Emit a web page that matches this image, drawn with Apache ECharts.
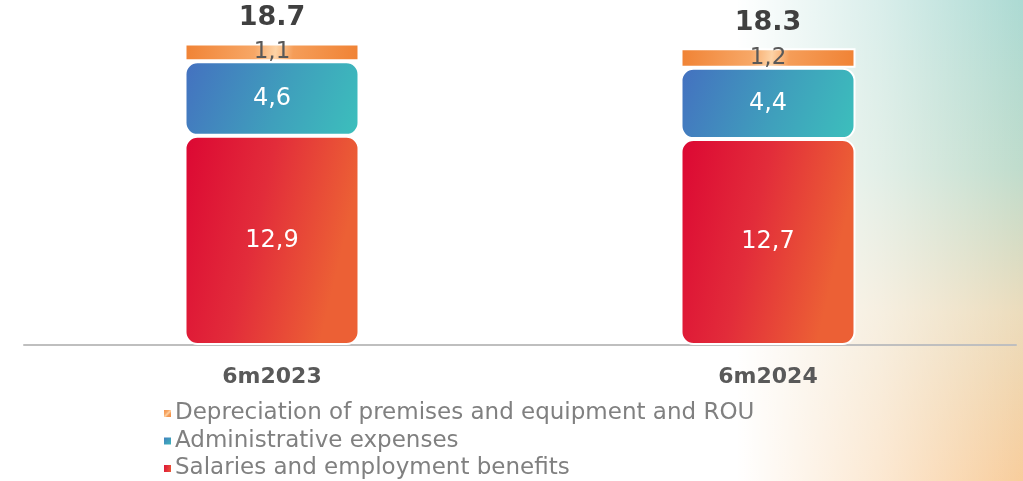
<!DOCTYPE html>
<html>
<head>
<meta charset="utf-8">
<script src="https://cdn.jsdelivr.net/npm/echarts@6/dist/echarts.min.js"></script>
<style>
html,body{margin:0;padding:0;width:1023px;height:481px;overflow:hidden;}
body{
  background:
    linear-gradient(to right, rgba(255,255,255,1) 0%, rgba(255,255,255,1) 72%, rgba(255,255,255,0.55) 86%, rgba(255,255,255,0) 100%),
    linear-gradient(to bottom, #acdad3 0%, #bfdccc 35%, #ecdcbc 65%, #f8cd9c 100%);
}
#chart{width:1023px;height:481px;}
</style>
</head>
<body>
<div id="chart"></div>
<script>
const categories = ['6m2023', '6m2024'];
const salaries = [12.9, 12.7];
const admin = [4.6, 4.4];
const depreciation = [1.1, 1.2];
const totals = [18.7, 18.3];
const seriesNames = ['Salaries and employment benefits', 'Administrative expenses', 'Depreciation of premises and equipment and ROU'];

const fmt = v => String(v).replace('.', ',');
const FONT = 'DejaVu Sans';

const chart = echarts.init(document.getElementById('chart'), null, {renderer: 'canvas'});
chart.setOption({
  animation: false,
  backgroundColor: 'transparent',
  grid: {left: 24, right: 7, top: 24, bottom: 136},
  xAxis: {
    type: 'category',
    data: categories,
    axisLine: {lineStyle: {color: '#bfbfbf', width: 2}},
    axisTick: {show: false},
    axisLabel: {margin: 21, color: '#595959', fontFamily: FONT, fontWeight: 'bold', fontSize: 22}
  },
  yAxis: {type: 'value', min: 0, max: 19.8, show: false, splitLine: {show: false}},
  legend: {
    orient: 'vertical', left: 157, top: 397, height: 90, itemGap: 4.5,
    itemWidth: 9, itemHeight: 9, icon: 'rect',
    data: [seriesNames[2], seriesNames[1], seriesNames[0]],
    textStyle: {color: '#808080', fontFamily: FONT, fontSize: 23, padding: [0, 0, 0, -2]}
  },
  series: [
    {
      name: seriesNames[0], type: 'bar', stack: 't', barWidth: 175,
      data: salaries,
      itemStyle: {
        borderRadius: 12, borderColor: '#ffffff', borderWidth: 2,
        color: new echarts.graphic.LinearGradient(0, 0, 1, 0.2, [
          {offset: 0, color: '#dc0733'}, {offset: 0.5, color: '#e22c3a'}, {offset: 1, color: '#ec6035'}
        ])
      },
      label: {show: true, position: 'inside', formatter: p => fmt(p.value), color: '#ffffff', fontFamily: FONT, fontSize: 24}
    },
    {
      name: seriesNames[1], type: 'bar', stack: 't',
      data: admin,
      itemStyle: {
        borderRadius: 12, borderColor: '#ffffff', borderWidth: 2,
        color: new echarts.graphic.LinearGradient(0, 0, 1, 1, [
          {offset: 0, color: '#4470c0'}, {offset: 0.55, color: '#3f9fbc'}, {offset: 1, color: '#3cc0bc'}
        ])
      },
      label: {show: true, position: 'inside', formatter: p => fmt(p.value), color: '#ffffff', fontFamily: FONT, fontSize: 24}
    },
    {
      name: seriesNames[2], type: 'bar', stack: 't',
      data: depreciation,
      itemStyle: {
        borderRadius: 0, borderColor: '#ffffff', borderWidth: 2,
        color: new echarts.graphic.LinearGradient(0, 0, 1, 1, [
          {offset: 0, color: '#f08234'}, {offset: 0.4, color: '#f7a766'}, {offset: 0.52, color: '#fdd3a6'},
          {offset: 0.62, color: '#f59d58'}, {offset: 1, color: '#f08234'}
        ])
      },
      label: {show: true, position: 'inside', formatter: p => fmt(p.value), color: '#595959', fontFamily: FONT, fontSize: 23}
    },
    {
      name: 'total', type: 'bar', stack: 't',
      data: totals.map(() => 0),
      itemStyle: {color: 'transparent', borderWidth: 0},
      label: {show: true, position: 'top', distance: 12, formatter: p => totals[p.dataIndex].toFixed(1), color: '#404040', fontFamily: FONT, fontWeight: 'bold', fontSize: 27}
    }
  ]
});
</script>
</body>
</html>
